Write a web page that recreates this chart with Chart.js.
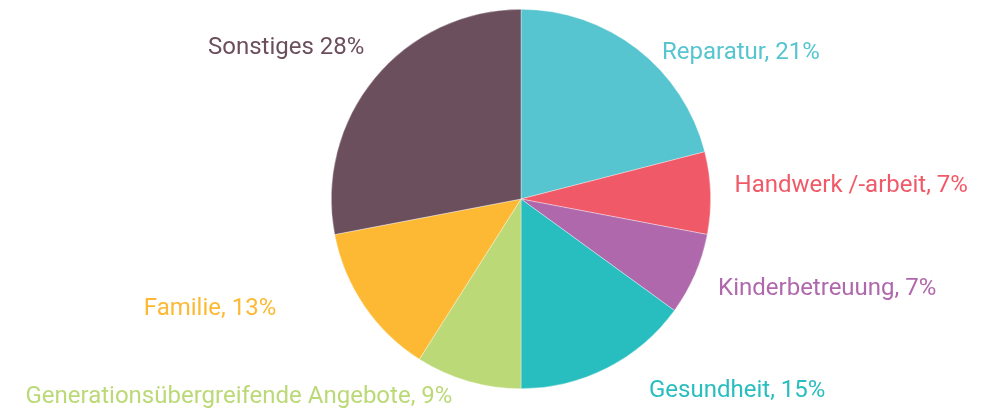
<!DOCTYPE html>
<html>
<head>
<meta charset="utf-8">
<script src="https://cdn.jsdelivr.net/npm/chart.js@4"></script>
<style>
  html, body { margin: 0; padding: 0; background: #fff; }
  #wrap { width: 995px; height: 417px; position: relative; }
</style>
</head>
<body>
<div id="wrap"><canvas id="pieChart"></canvas></div>
<script>
// Slice data (percent)
const categories = ['Reparatur', 'Handwerk /-arbeit', 'Kinderbetreuung', 'Gesundheit', 'Generationsübergreifende Angebote', 'Familie', 'Sonstiges'];
const shares = [21, 7, 7, 15, 9, 13, 28];
const labelTexts = ['Reparatur, 21%', 'Handwerk /-arbeit, 7%', 'Kinderbetreuung, 7%', 'Gesundheit, 15%', 'Generationsübergreifende Angebote, 9%', 'Familie, 13%', 'Sonstiges 28%'];

const sliceColors = ['#56C5D0', '#F05A68', '#B068AC', '#28BEC0', '#BBD977', '#FDB933', '#6B4F5D'];
// small per-label nudges relative to the mid-angle anchor
const labelNudge = [[10, 23], [0, -6], [1, 5], [31, 2], [-9, -7], [-68, -10], [8, -15]];

const outsideLabels = {
    id: 'outsideLabels',
    afterDatasetsDraw(chart) {
        const ctx = chart.ctx;
        const meta = chart.getDatasetMeta(0);
        ctx.save();
        ctx.font = '24px Roboto, "Open Sans", sans-serif';
        ctx.textBaseline = 'middle';
        meta.data.forEach((arc, i) => {
            const mid = (arc.startAngle + arc.endAngle) / 2;
            const r = arc.outerRadius + 24;
            const x = arc.x + Math.cos(mid) * r + labelNudge[i][0];
            const y = arc.y + Math.sin(mid) * r + labelNudge[i][1];
            ctx.textAlign = Math.cos(mid) >= 0 ? 'left' : 'right';
            ctx.fillStyle = sliceColors[i];
            ctx.fillText(labelTexts[i], x, y);
        });
        ctx.restore();
    }
};

new Chart(document.getElementById('pieChart'), {
    type: 'pie',
    data: {
        labels: categories,
        datasets: [{
            data: shares,
            backgroundColor: sliceColors,
            borderColor: 'rgba(255,255,255,0.6)',
            borderWidth: 0.6
        }]
    },
    options: {
        responsive: true,
        maintainAspectRatio: false,
        animation: false,
        layout: { padding: { top: 9, bottom: 28, left: 331, right: 284 } },
        plugins: {
            legend: { display: false },
            tooltip: { enabled: false }
        }
    },
    plugins: [outsideLabels]
});
</script>
</body>
</html>
